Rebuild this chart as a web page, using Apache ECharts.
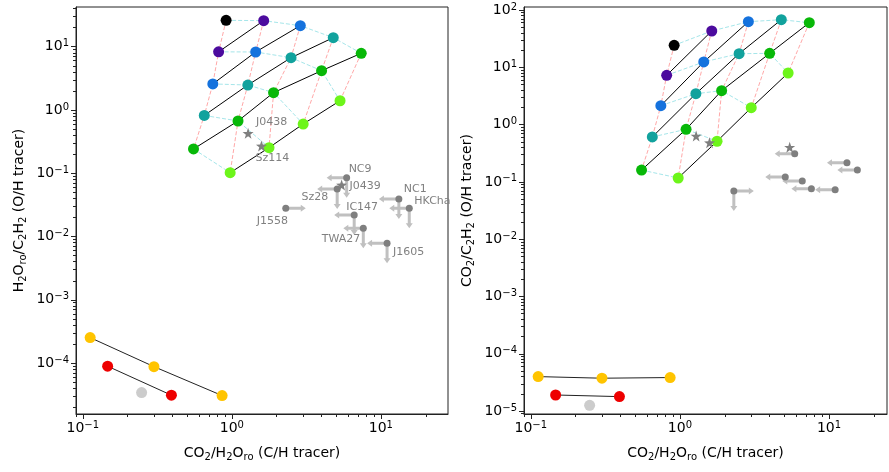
<!DOCTYPE html>
<html>
<head>
<meta charset="utf-8">
<script src="https://cdn.jsdelivr.net/npm/echarts@6/dist/echarts.min.js"></script>
<style>
  html, body { margin: 0; padding: 0; background: #fff; }
  #chart { width: 889px; height: 472px; }
</style>
</head>
<body>
<div id="chart"></div>
<script>
// model grid: one row per colour, the k-th point of a row sits on pink column rowStart+k
const rowColors = ['#000000', '#4c0b9e', '#1572dd', '#12a29d', '#08b808', '#6df51a'];
const rowStart = [0, 0, 0, 0, 0, 1];
const gridX = [
  [0.915],
  [0.815, 1.635],
  [0.745, 1.445, 2.88],
  [0.653, 1.28, 2.495, 4.79],
  [0.553, 1.10, 1.905, 4.0, 7.38],
  [0.974, 1.775, 3.01, 5.32]
];
const gridH2O = [
  [26.1],
  [8.3, 25.8],
  [2.58, 8.25, 21.5],
  [0.82, 2.48, 6.7, 13.9],
  [0.242, 0.67, 1.88, 4.18, 7.87],
  [0.102, 0.254, 0.60, 1.40]
];
const gridCO2 = [
  [24.2],
  [7.25, 43],
  [2.14, 12.4, 62.5],
  [0.608, 3.46, 17.3, 67.7],
  [0.161, 0.828, 3.91, 17.5, 60],
  [0.117, 0.512, 1.97, 7.95]
];

// observed sources
const srcNames = ['J0438', 'Sz114', 'J0439', 'NC9', 'Sz28', 'J1558', 'IC147', 'TWA27', 'J1605', 'NC1', 'HKCha'];
const srcX = [1.285, 1.58, 5.45, 5.89, 5.09, 2.30, 6.62, 7.62, 11.0, 13.2, 15.5];
const srcH2O = [0.428, 0.27, 0.0653, 0.0853, 0.0565, 0.028, 0.0219, 0.0135, 0.00784, 0.0393, 0.028];
const srcCO2 = [0.632, 0.483, 0.402, 0.31, 0.122, 0.0693, 0.104, 0.076, 0.0731, 0.216, 0.161];
const srcDetected = [true, true, true, false, false, false, false, false, false, false, false];
const arrowsH2O = ['', '', '', 'ld', 'ld', 'r', 'ld', 'ld', 'ld', 'ld', 'ld'];
const arrowsCO2 = ['', '', '', 'l', 'l', 'rd', 'l', 'l', 'l', 'l', 'l'];

// bottom groups
const yellowX = [0.112, 0.30, 0.86];
const yellowH2O = [2.53e-4, 8.8e-5, 3.07e-5];
const yellowCO2 = [4.0e-5, 3.75e-5, 3.85e-5];
const redX = [0.1467, 0.393];
const redH2O = [8.93e-5, 3.11e-5];
const redCO2 = [1.91e-5, 1.79e-5];
const greyX = [0.248];
const greyH2O = [3.42e-5];
const greyCO2 = [1.26e-5];

// label placement for the left panel: [align, dx, dy]
const labelPlace = [
  ['left', 8, -11], ['left', -6, 12], ['left', 8, 1], ['left', 2, -8], ['right', -9, 8],
  ['left', -29, 13], ['left', -8, -8], ['right', -3, 11], ['left', 6, 9], ['left', 5, -10], ['left', 5, -7]
];

const STAR = 'path://M0,-10L2.35,-3.24L9.51,-3.09L3.8,1.24L5.88,8.09L0,4L-5.88,8.09L-3.8,1.24L-9.51,-3.09L-2.35,-3.24Z';
const FONT = 'DejaVu Sans';
const AXIS_COLOR = '#222';

function majorTicks(min, max) {
  const v = [];
  for (let e = -8; e <= 4; e++) {
    const t = Math.pow(10, e);
    if (t >= min && t <= max) v.push(t);
  }
  return v;
}
function minorTicks(min, max) {
  const v = [];
  for (let e = -8; e <= 4; e++) {
    for (let k = 2; k <= 9; k++) {
      const t = k * Math.pow(10, e);
      if (t >= min && t <= max) v.push(t);
    }
  }
  return v;
}
function powLabel(v) {
  const e = Math.round(Math.log10(v));
  return '{b|10}{s|' + (e < 0 ? '\u2212' + (-e) : e) + '}';
}

const nameRich = {
  n: { fontFamily: FONT, fontSize: 14, color: '#000', lineHeight: 18 },
  s: { fontFamily: FONT, fontSize: 10, color: '#000', lineHeight: 10, verticalAlign: 'bottom' }
};
const labelRich = {
  b: { fontFamily: FONT, fontSize: 14, color: '#000', lineHeight: 16 },
  s: { fontFamily: FONT, fontSize: 10, color: '#000', lineHeight: 10, verticalAlign: 'top' }
};

function axisPair(kind, grid, min, max, name, nameGap) {
  const isX = kind === 'x';
  const major = {
    type: 'log', logBase: 10, gridIndex: grid, min: min, max: max,
    position: isX ? 'bottom' : 'left',
    name: name, nameLocation: 'middle', nameGap: nameGap,
    nameTextStyle: { rich: nameRich },
    axisLine: { show: true, onZero: false, lineStyle: { color: AXIS_COLOR, width: 1 } },
    axisTick: { show: true, length: 5, customValues: majorTicks(min, max), lineStyle: { color: AXIS_COLOR, width: 1 } },
    axisLabel: { show: true, margin: isX ? 6 : 7, customValues: majorTicks(min, max), formatter: powLabel, rich: labelRich },
    splitLine: { show: false },
    minorTick: { show: false }
  };
  const minor = {
    type: 'log', logBase: 10, gridIndex: grid, min: min, max: max,
    position: isX ? 'bottom' : 'left',
    axisLine: { show: false, onZero: false },
    axisTick: { show: true, length: 3, customValues: minorTicks(min, max), lineStyle: { color: AXIS_COLOR, width: 1 } },
    axisLabel: { show: false },
    splitLine: { show: false }
  };
  return [major, minor];
}

const X_MIN = 0.09;
const xName = '{n|CO}{s|2}{n|/H}{s|2}{n|O}{s|ro}{n| (C/H tracer)}';
const yNameL = '{n|H}{s|2}{n|O}{s|ro}{n|/C}{s|2}{n|H}{s|2}{n| (O/H tracer)}';
const yNameR = '{n|CO}{s|2}{n|/C}{s|2}{n|H}{s|2}{n| (O/H tracer)}';

const xAxes = axisPair('x', 0, X_MIN, 28.2, xName, 30).concat(axisPair('x', 1, X_MIN, 24.5, xName, 30));
const yAxes = axisPair('y', 0, 1.57e-5, 42.4, yNameL, 48).concat(axisPair('y', 1, 8.9e-6, 112.8, yNameR, 48));

function cellPoints(ys) {
  // every model point with its row and pink column
  const pts = [];
  gridX.forEach((row, r) => row.forEach((x, k) => pts.push({ r: r, c: rowStart[r] + k, x: x, y: ys[r][k] })));
  return pts;
}

function gridSeries(ys, ax) {
  const pts = cellPoints(ys);
  const out = [];
  const base = { type: 'line', xAxisIndex: ax, yAxisIndex: ax, showSymbol: false, silent: true, animation: false };
  // pink dashed: same column
  const cols = [...new Set(pts.map(p => p.c))];
  cols.forEach(c => {
    const d = pts.filter(p => p.c === c).sort((a, b) => a.r - b.r).map(p => [p.x, p.y]);
    if (d.length > 1) out.push(Object.assign({}, base, { z: 1, data: d, lineStyle: { color: '#ffa8a8', width: 1, type: [4, 2] } }));
  });
  // cyan dashed: same row - column
  const diags = [...new Set(pts.map(p => p.r - p.c))];
  diags.forEach(g => {
    const d = pts.filter(p => p.r - p.c === g).sort((a, b) => a.r - b.r).map(p => [p.x, p.y]);
    if (d.length > 1) out.push(Object.assign({}, base, { z: 1, data: d, lineStyle: { color: '#a6e6ea', width: 1, type: [4, 2] } }));
  });
  // black solid: same colour row, plus the dots
  gridX.forEach((row, r) => {
    const d = row.map((x, k) => [x, ys[r][k]]);
    if (d.length > 1) out.push(Object.assign({}, base, { z: 2, data: d, lineStyle: { color: '#000', width: 1 } }));
    out.push({
      type: 'scatter', xAxisIndex: ax, yAxisIndex: ax, z: 4, silent: true, animation: false,
      symbol: 'circle', symbolSize: 11, itemStyle: { color: rowColors[r], opacity: 1 }, data: d
    });
  });
  return out;
}

function renderArrow(params, api) {
  const p = api.coord([api.value(0), api.value(1)]);
  const d = [[-1, 0], [1, 0], [0, 1]][api.value(2)];
  const L = 20, H = 5, sw = 1.5, hw = 3.5;
  const n = [-d[1], d[0]];
  const pt = (a, b) => [p[0] + d[0] * a + n[0] * b, p[1] + d[1] * a + n[1] * b];
  return {
    type: 'polygon',
    shape: { points: [pt(0, -sw), pt(L - H, -sw), pt(L - H, -hw), pt(L, 0), pt(L - H, hw), pt(L - H, sw), pt(0, sw)] },
    style: { fill: '#c0c0c0' }
  };
}

function sourceSeries(ys, flags, ax, withLabels) {
  const arrowData = [];
  srcX.forEach((x, i) => flags[i].split('').forEach(f => arrowData.push([x, ys[i], 'lrd'.indexOf(f)])));
  const pts = srcX.map((x, i) => {
    const item = {
      name: srcNames[i], value: [x, ys[i]],
      symbol: srcDetected[i] ? STAR : 'circle',
      symbolSize: srcDetected[i] ? 11 : 7
    };
    if (withLabels) {
      const lp = labelPlace[i];
      item.label = {
        show: true, position: 'inside', align: lp[0], verticalAlign: 'middle', offset: [lp[1], lp[2]],
        formatter: '{b}', color: '#808080', fontFamily: FONT, fontSize: 11
      };
    }
    return item;
  });
  return [
    {
      type: 'custom', xAxisIndex: ax, yAxisIndex: ax, z: 3, silent: true, animation: false,
      dimensions: ['x', 'y', 'dir'], encode: { x: 0, y: 1 },
      renderItem: renderArrow, data: arrowData
    },
    {
      type: 'scatter', xAxisIndex: ax, yAxisIndex: ax, z: 5, silent: true, animation: false,
      itemStyle: { color: '#7f7f7f', opacity: 1 }, data: pts
    }
  ];
}

function groupSeries(xs, ys, color, ax, joined) {
  const d = xs.map((x, i) => [x, ys[i]]);
  const s = [{
    type: 'scatter', xAxisIndex: ax, yAxisIndex: ax, z: 4, silent: true, animation: false,
    symbol: 'circle', symbolSize: 11, itemStyle: { color: color, opacity: 1 }, data: d
  }];
  if (joined) {
    s.push({
      type: 'line', xAxisIndex: ax, yAxisIndex: ax, z: 2, silent: true, animation: false,
      showSymbol: false, lineStyle: { color: '#222', width: 1 }, data: d
    });
  }
  return s;
}

function panel(ax, gridYs, srcYs, flags, yY, rY, gY, labels) {
  return [].concat(
    gridSeries(gridYs, ax),
    sourceSeries(srcYs, flags, ax, labels),
    groupSeries(yellowX, yY, '#ffc400', ax, true),
    groupSeries(redX, rY, '#ee0000', ax, true),
    groupSeries(greyX, gY, '#cccccc', ax, false)
  );
}

// series use major axes 0 (left panel) and 2 (right panel)
const leftSeries = panel(0, gridH2O, srcH2O, arrowsH2O, yellowH2O, redH2O, greyH2O, true);
const rightSeries = panel(2, gridCO2, srcCO2, arrowsCO2, yellowCO2, redCO2, greyCO2, false);

const option = {
  animation: false,
  backgroundColor: '#fff',
  textStyle: { fontFamily: FONT },
  grid: [
    { left: 76, top: 7, right: 441, bottom: 58, show: true, borderColor: AXIS_COLOR, borderWidth: 1, backgroundColor: 'transparent' },
    { left: 524, top: 7, right: 2, bottom: 58, show: true, borderColor: AXIS_COLOR, borderWidth: 1, backgroundColor: 'transparent' }
  ],
  xAxis: xAxes,
  yAxis: yAxes,
  series: leftSeries.concat(rightSeries)
};

const chart = echarts.init(document.getElementById('chart'), null, { renderer: 'canvas' });
chart.setOption(option);
</script>
</body>
</html>
